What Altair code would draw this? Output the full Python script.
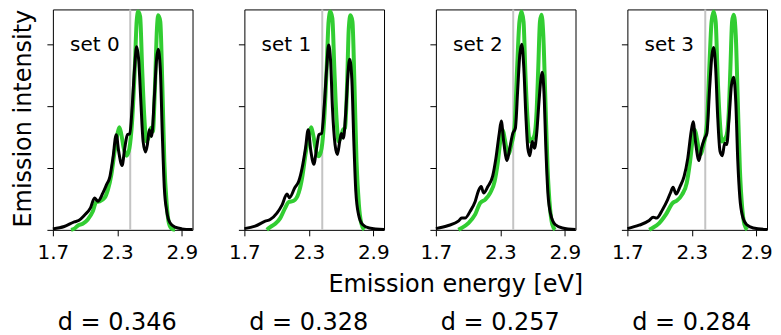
import altair as alt
import pandas as pd

# ---------------- data ----------------
set_labels = ["set 0", "set 1", "set 2", "set 3"]
d_labels = ["d = 0.346", "d = 0.328", "d = 0.257", "d = 0.284"]
ref_energy = [2.42, 2.425, 2.42, 2.425]
x_ticks = [1.7, 2.3, 2.9]
y_ticks = [0, 1, 2, 3]

# panel 0
bx0 = [1.70, 1.806, 1.90, 1.94, 1.994, 2.05, 2.0875, 2.119, 2.166, 2.203, 2.228, 2.259, 2.29, 2.3125, 2.344,
       2.369, 2.394, 2.416, 2.4375, 2.4625, 2.48, 2.50, 2.519, 2.54, 2.5625, 2.58, 2.597, 2.619, 2.644, 2.666,
       2.68, 2.70, 2.719, 2.7375, 2.76, 2.79, 2.8375, 2.9, 3.0]
by0 = [0.016, 0.054, 0.129, 0.15, 0.237, 0.355, 0.516, 0.462, 0.597, 0.742, 0.839, 1.16, 1.54, 1.27, 1.04,
       1.32, 1.54, 1.55, 1.97, 2.67, 2.96, 2.72, 2.075, 1.43, 1.26, 1.38, 1.62, 1.51, 2.13, 2.77,
       2.92, 2.61, 1.54, 0.68, 0.30, 0.113, 0.043, 0.016, 0.005]
gx0 = [1.869, 1.90, 1.9375, 1.978, 2.025, 2.072, 2.103, 2.134, 2.181, 2.2125, 2.244, 2.275, 2.30, 2.319, 2.3375,
       2.3625, 2.3875, 2.4125, 2.4375, 2.4625, 2.48, 2.494, 2.5125, 2.531, 2.55, 2.572, 2.594, 2.6125, 2.631,
       2.65, 2.669, 2.68, 2.70, 2.719, 2.7375, 2.76, 2.78, 2.806, 2.8375]
gy0 = [0, 0.02, 0.075, 0.097, 0.167, 0.30, 0.45, 0.46, 0.516, 0.65, 0.89, 1.27, 1.54, 1.66, 1.54,
       1.30, 1.20, 1.32, 1.75, 2.61, 3.37, 3.53, 3.45, 2.61, 1.86, 1.43, 1.51, 1.65, 1.59,
       2.29, 3.26, 3.47, 3.37, 2.34, 1.11, 0.41, 0.11, 0.02, 0]

# panel 1
bx1 = [1.70, 1.80, 1.894, 1.94, 2.003, 2.05, 2.097, 2.12, 2.169, 2.206, 2.2375, 2.269, 2.294, 2.319, 2.347,
       2.372, 2.394, 2.419, 2.444, 2.466, 2.484, 2.503, 2.52, 2.544, 2.566, 2.5875, 2.603, 2.622, 2.644, 2.666,
       2.68, 2.70, 2.719, 2.7375, 2.7625, 2.80, 2.8625, 3.0]
by1 = [0.02, 0.06, 0.14, 0.167, 0.27, 0.40, 0.58, 0.52, 0.68, 0.785, 1.0, 1.32, 1.62, 1.27, 1.06,
       1.32, 1.54, 1.56, 2.02, 2.61, 2.99, 2.72, 1.97, 1.38, 1.22, 1.43, 1.56, 1.48, 1.91, 2.56,
       2.76, 2.45, 1.43, 0.62, 0.25, 0.086, 0.03, 0.005]
gx1 = [1.909, 1.94, 1.9875, 2.034, 2.08, 2.1125, 2.159, 2.206, 2.2375, 2.269, 2.30, 2.322, 2.34, 2.369, 2.394,
       2.419, 2.444, 2.466, 2.484, 2.50, 2.519, 2.5375, 2.556, 2.578, 2.60, 2.619, 2.6375, 2.656, 2.672,
       2.6875, 2.706, 2.725, 2.744, 2.766, 2.7875, 2.816]
gy1 = [0, 0.043, 0.097, 0.19, 0.355, 0.45, 0.47, 0.60, 0.84, 1.22, 1.54, 1.66, 1.54, 1.27, 1.19,
       1.32, 1.81, 2.61, 3.37, 3.53, 3.42, 2.61, 1.86, 1.43, 1.51, 1.62, 1.65, 2.34, 3.26,
       3.47, 3.37, 2.34, 1.11, 0.41, 0.11, 0]

# panel 2
bx2 = [1.70, 1.816, 1.909, 1.94, 1.972, 2.019, 2.066, 2.097, 2.122, 2.144, 2.184, 2.228, 2.259, 2.29, 2.309,
       2.331, 2.3625, 2.3875, 2.416, 2.44, 2.4625, 2.481, 2.50, 2.519, 2.5375, 2.556, 2.575, 2.597, 2.619,
       2.6375, 2.66, 2.678, 2.69, 2.706, 2.725, 2.744, 2.769, 2.81, 2.878, 3.0]
by2 = [0.02, 0.07, 0.14, 0.19, 0.19, 0.30, 0.46, 0.634, 0.70, 0.597, 0.70, 0.866, 1.16, 1.56, 1.76,
       1.43, 1.12, 1.32, 1.56, 1.645, 2.29, 2.83, 3.0, 2.61, 1.86, 1.32, 1.20, 1.43, 1.32,
       1.54, 2.075, 2.45, 2.55, 2.24, 1.27, 0.57, 0.25, 0.086, 0.03, 0.005]
gx2 = [1.909, 1.94, 2.003, 2.066, 2.1125, 2.159, 2.206, 2.247, 2.278, 2.303, 2.322, 2.34, 2.372, 2.403, 2.434,
       2.456, 2.478, 2.497, 2.516, 2.534, 2.553, 2.575, 2.597, 2.619, 2.6375, 2.653, 2.669, 2.684, 2.70,
       2.72, 2.74, 2.7625, 2.784, 2.81]
gy2 = [0, 0.03, 0.11, 0.25, 0.435, 0.49, 0.597, 0.785, 1.11, 1.48, 1.62, 1.48, 1.22, 1.38, 1.70,
       2.61, 3.37, 3.53, 3.37, 2.505, 1.81, 1.43, 1.46, 1.54, 1.91, 2.61, 3.37, 3.48, 3.15,
       2.075, 1.0, 0.355, 0.086, 0]

# panel 3
bx3 = [1.70, 1.809, 1.903, 1.94, 1.972, 2.028, 2.075, 2.106, 2.125, 2.153, 2.19, 2.228, 2.2625, 2.294, 2.3125,
       2.334, 2.366, 2.39, 2.419, 2.44, 2.4656, 2.4875, 2.503, 2.522, 2.54, 2.5625, 2.584, 2.606, 2.625,
       2.647, 2.669, 2.69, 2.709, 2.728, 2.747, 2.772, 2.809, 2.872, 3.0]
by3 = [0.02, 0.075, 0.15, 0.204, 0.19, 0.33, 0.49, 0.62, 0.69, 0.58, 0.70, 0.866, 1.16, 1.59, 1.75,
       1.43, 1.12, 1.32, 1.48, 1.56, 2.29, 2.83, 2.95, 2.61, 1.86, 1.27, 1.20, 1.40, 1.38,
       1.81, 2.34, 2.47, 2.075, 1.11, 0.52, 0.22, 0.086, 0.03, 0.005]
gx3 = [1.903, 1.934, 1.997, 2.059, 2.122, 2.159, 2.209, 2.253, 2.284, 2.309, 2.328, 2.347, 2.378, 2.409, 2.44,
       2.4625, 2.484, 2.503, 2.522, 2.54, 2.559, 2.58, 2.603, 2.625, 2.644, 2.659, 2.675, 2.69, 2.709,
       2.728, 2.747, 2.769, 2.79, 2.816]
gy3 = [0, 0.03, 0.11, 0.25, 0.435, 0.47, 0.57, 0.76, 1.11, 1.48, 1.62, 1.48, 1.22, 1.38, 1.70,
       2.61, 3.37, 3.53, 3.37, 2.505, 1.81, 1.43, 1.46, 1.54, 1.91, 2.61, 3.37, 3.48, 3.15,
       2.075, 1.0, 0.355, 0.086, 0]

black_x = [bx0, bx1, bx2, bx3]
black_y = [by0, by1, by2, by3]
green_x = [gx0, gx1, gx2, gx3]
green_y = [gy0, gy1, gy2, gy3]

# ---------------- chart ----------------
FONT = "DejaVu Sans"
W, H = 140, 221
x_scale = alt.Scale(domain=[1.7, 3.0], nice=False, zero=False)
y_scale = alt.Scale(domain=[0, 3.565], nice=False, zero=False)


def panel(i):
    x_axis = alt.Axis(values=x_ticks, format=".1f", labelFontSize=20, labelFont=FONT, labelColor="black",
                      labelPadding=7, labelFlush=False, labelOverlap=False, tickSize=6, tickColor="black",
                      tickWidth=1, domain=False, grid=False, title=d_labels[i], titleFont=FONT,
                      titleFontSize=24, titleFontWeight="normal", titleColor="black", titleX=64,
                      titleY=100, titleBaseline="alphabetic", titleAlign="center")
    if i == 0:
        y_axis = alt.Axis(values=y_ticks, labels=False, tickSize=6, tickColor="black", tickWidth=1,
                          domain=False, grid=False, title="Emission intensity", titleFont=FONT,
                          titleFontSize=24, titleFontWeight="normal", titleColor="black", titleAngle=270,
                          titleBaseline="alphabetic", titleAlign="center", titleX=-22.5, titleY=109)
    else:
        y_axis = alt.Axis(values=y_ticks, labels=False, tickSize=6, tickColor="black", tickWidth=1,
                          domain=False, grid=False, title=None)

    rule_df = pd.DataFrame({"x": [ref_energy[i]]})
    g_df = pd.DataFrame({"x": green_x[i], "y": green_y[i]})
    b_df = pd.DataFrame({"x": black_x[i], "y": black_y[i]})
    t_df = pd.DataFrame({"x": [1.86], "y": [2.89], "t": [set_labels[i]]})

    rule = alt.Chart(rule_df).mark_rule(color="#c4c4c4", strokeWidth=2).encode(
        x=alt.X("x:Q", scale=x_scale, axis=x_axis))
    green = alt.Chart(g_df).mark_line(color="#32cd32", strokeWidth=4, interpolate="monotone").encode(
        x=alt.X("x:Q", scale=x_scale, axis=x_axis), y=alt.Y("y:Q", scale=y_scale, axis=y_axis))
    black = alt.Chart(b_df).mark_line(color="black", strokeWidth=3, interpolate="monotone").encode(
        x=alt.X("x:Q", scale=x_scale, axis=x_axis), y=alt.Y("y:Q", scale=y_scale, axis=y_axis))
    label = alt.Chart(t_df).mark_text(align="left", baseline="alphabetic", fontSize=20, font=FONT,
                                      color="black").encode(
        x=alt.X("x:Q", scale=x_scale, axis=x_axis), y=alt.Y("y:Q", scale=y_scale, axis=y_axis), text="t:N")
    layers = [rule, green, black, label]
    if i == 1:
        common = alt.Chart(pd.DataFrame({"t": ["Emission energy [eV]"]})).mark_text(
            align="center", baseline="alphabetic", fontSize=24, font=FONT, color="black").encode(
            text="t:N", x=alt.value(212), y=alt.value(283))
        layers.append(common)
    return alt.layer(*layers).properties(width=W, height=H)


chart = alt.hconcat(*[panel(i) for i in range(4)], spacing=52, bounds="flush").properties(
    padding={"left": 2, "top": -6, "right": -1, "bottom": 0}
).configure(font=FONT, view=alt.ViewConfig(stroke="black", strokeWidth=1))

chart.save("out.html", embed_options={"renderer": "svg", "actions": False})
